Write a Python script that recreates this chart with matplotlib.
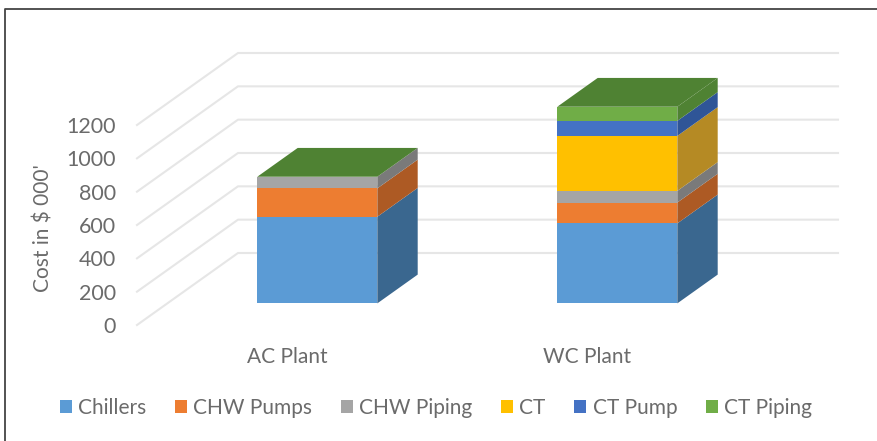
import matplotlib
matplotlib.use('Agg')
import matplotlib.pyplot as plt
from matplotlib.patches import Polygon, Rectangle
from matplotlib.lines import Line2D

plt.rcParams['font.family'] = ['Lato', 'DejaVu Sans']

# values
plants = ['AC Plant', 'WC Plant']
components = ['Chillers', 'CHW Pumps', 'CHW Piping', 'CT', 'CT Pump', 'CT Piping']
ac_costs = [520, 170, 70, 0, 0, 0]
wc_costs = [480, 125, 70, 330, 90, 85]
y_ticks = [0, 200, 400, 600, 800, 1000, 1200]

front_colors = ['#5b9bd5', '#ed7d31', '#a5a5a5', '#ffc000', '#4472c4', '#70ad47']
side_colors = ['#3a678f', '#ad5a24', '#7a7a7a', '#b58a24', '#2f5597', '#4f8233']
top_color = '#4f8233'
text_color = '#6b6b6b'
grid_color = '#e6e6e6'

W, H = 877, 441
fig = plt.figure(figsize=(W / 100, H / 100), dpi=100)

# front plane of the 3D box, in pixels: x 137-737, y 325-125
ax = fig.add_axes([137 / W, (H - 325) / H, 600 / W, 200 / H])
ax.set_xlim(0, 2)
ax.set_ylim(0, 1200)
for s in ax.spines.values():
    s.set_visible(False)

# depth shift of the back wall, in data units
dx_back = 101 / 300
dy_back = 72 / (200 / 1200)


def proj(x, y, z):
    return x + dx_back * z, y + dy_back * z


# gridlines: floor/wall diagonal + back wall
for v in y_ticks:
    x0, y0 = proj(0, v, 0)
    x1, y1 = proj(0, v, 1)
    x2, y2 = proj(2, v, 1)
    ax.plot([x0, x1, x2], [y0, y1, y2], color=grid_color, lw=1.5, clip_on=False, zorder=1)

# stacked 3D bars
z0, z1 = 0.30, 0.70
half = 0.2
for i, costs in enumerate([ac_costs, wc_costs]):
    left = i + 0.5 - half
    right = i + 0.5 + half
    bottom = 0
    for j, c in enumerate(costs):
        top = bottom + c
        if c > 0:
            front = [proj(left, bottom, z0), proj(right, bottom, z0),
                     proj(right, top, z0), proj(left, top, z0)]
            side = [proj(right, bottom, z0), proj(right, bottom, z1),
                    proj(right, top, z1), proj(right, top, z0)]
            ax.add_patch(Polygon(side, facecolor=side_colors[j], edgecolor='none', clip_on=False, zorder=3))
            ax.add_patch(Polygon(front, facecolor=front_colors[j], edgecolor='none', clip_on=False, zorder=3))
        bottom = top
    lid = [proj(left, bottom, z0), proj(right, bottom, z0),
           proj(right, bottom, z1), proj(left, bottom, z1)]
    ax.add_patch(Polygon(lid, facecolor=top_color, edgecolor='none', clip_on=False, zorder=4))

ax.set_yticks(y_ticks)
ax.set_xticks([0.5, 1.5])
ax.set_xticklabels(plants)
ax.tick_params(axis='y', length=0, pad=15, labelsize=15.5, labelcolor=text_color)
ax.tick_params(axis='x', length=0, pad=16, labelsize=15, labelcolor=text_color)
fig.text(44 / W, 1 - 228 / H, "Cost in $ 000'", rotation=90, ha='center', va='center',
         fontsize=15, color=text_color)

# legend
handles = [Rectangle((0, 0), 1, 1, facecolor=c, edgecolor='none') for c in front_colors]
fig.legend(handles, components, loc='center', bbox_to_anchor=(436 / W, 1 - 408 / H), ncol=6,
           frameon=False, fontsize=15, labelcolor=text_color, handlelength=0.58, handleheight=0.58,
           handletextpad=0.3, columnspacing=1.37)

# outer frame of the picture: only top and left edges show
fig.add_artist(Line2D([5 / W, 5 / W, 1], [0, 1 - 9 / H, 1 - 9 / H], transform=fig.transFigure,
                      color='#444444', lw=1.3))

plt.savefig('out.png', dpi=100)
plt.close()
